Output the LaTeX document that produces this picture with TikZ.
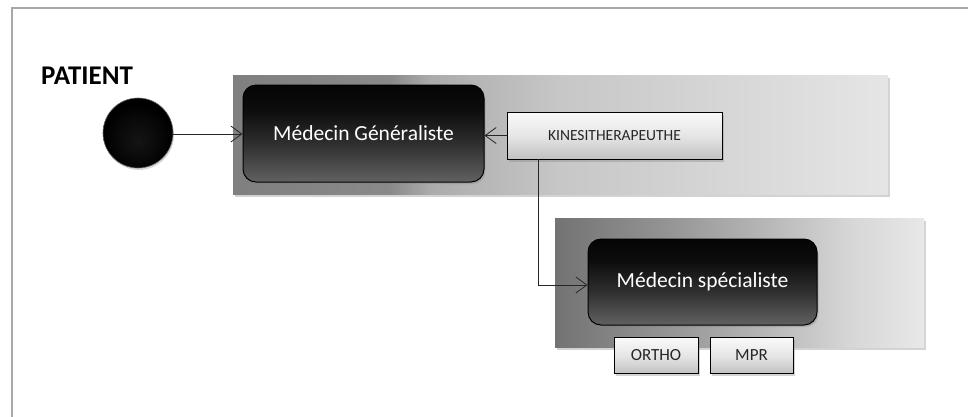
\documentclass[tikz,border=0pt]{standalone}
\usepackage{fontspec}
\setmainfont{Carlito}
\usetikzlibrary{shadows,arrows.meta}
\definecolor{framegray}{HTML}{A8A8A8}
\definecolor{textdark}{HTML}{262626}
\pgfdeclarehorizontalshading{bandA}{100bp}{%
  color(0bp)=(black!50); color(25bp)=(black!50); color(37bp)=(black!46);
  color(40bp)=(black!33); color(50bp)=(black!22); color(75bp)=(black!10); color(100bp)=(black!10)}
\pgfdeclarehorizontalshading{bandB}{100bp}{%
  color(0bp)=(black!55); color(25bp)=(black!55); color(40bp)=(black!42);
  color(52bp)=(black!30); color(65bp)=(black!16); color(75bp)=(black!9); color(100bp)=(black!9)}
\pgfdeclareverticalshading{darkbox}{100bp}{%
  color(0bp)=(black!62); color(25bp)=(black!62); color(45bp)=(black!82);
  color(62bp)=(black!95); color(75bp)=(black!98); color(100bp)=(black!98)}
\pgfdeclareverticalshading{lightbox}{100bp}{%
  color(0bp)=(black!24); color(25bp)=(black!24); color(50bp)=(black!10);
  color(75bp)=(black!2); color(100bp)=(black!2)}
\pgfdeclareradialshading{dotshade}{\pgfpoint{0bp}{-6bp}}{%
  color(0bp)=(black!92); color(16bp)=(black!97); color(24bp)=(black!100); color(25bp)=(black!100); color(50bp)=(black!100)}
\tikzset{
  band/.style={draw=none, drop shadow={shadow xshift=1.5pt, shadow yshift=-2.5pt, opacity=0.35}},
  actbox/.style={rounded corners=13pt, draw=black, line width=1pt, shading=darkbox,
    text=white, font=\fontsize{21.5}{24}\selectfont,
    drop shadow={shadow xshift=1.5pt, shadow yshift=-2pt, opacity=0.35}},
  smallbox/.style={draw=black, line width=1pt, shading=lightbox, text=textdark,
    font=\fontsize{15.5}{17}\selectfont, inner sep=0pt,
    drop shadow={shadow xshift=1.5pt, shadow yshift=-2.5pt, opacity=0.35}},
  conn/.style={draw=black!85, line width=0.8pt, -{Straight Barb[length=11pt,width=16pt]}},
}
\begin{document}
\begin{tikzpicture}[x=1pt,y=-1pt]
\useasboundingbox (0,0) rectangle (968,416);
% frame
\draw[framegray, line width=1.6pt] (12,417) -- (12,8) -- (969,8);
% bands
\path[band, shading=bandA] (233,75) rectangle (888,194);
\path[band, shading=bandB] (555,218) rectangle (924,347);
% title
\node[anchor=west, font=\bfseries\fontsize{27}{30}\selectfont, inner sep=0pt] (title) at (41,76) {PATIENT};
% start circle
\node[circle, minimum size=70pt, inner sep=0pt, shading=dotshade, draw=black!60, line width=0.6pt,
  drop shadow={shadow xshift=1pt, shadow yshift=-2pt, opacity=0.3}] (patient) at (138,133) {};
% boxes
\node[actbox, minimum width=241pt, minimum height=97pt] (mg) at (363.5,133.5) {Médecin Généraliste};
\node[smallbox, minimum width=215pt, minimum height=47pt] (kine) at (614.5,135.5) {KINESITHERAPEUTHE};
\node[actbox, minimum width=229pt, minimum height=86pt] (ms) at (702.5,282) {Médecin spécialiste};
\node[smallbox, minimum width=84pt, minimum height=36pt, font=\fontsize{17}{19}\selectfont] (ortho) at (656,355.5) {ORTHO};
\node[smallbox, minimum width=83pt, minimum height=36pt, font=\fontsize{17}{19}\selectfont] (mpr) at (751.5,355.5) {MPR};
% connectors
\draw[conn] (patient.east |- 0,134) -- (mg.west |- 0,134);
\draw[conn] (kine.west) -- (mg.east |- kine.west);
\coordinate (kdown) at (538,159);
\coordinate (kcorner) at (538,285);
\draw[conn] (kdown) -- (kcorner) -- (ms.west |- kcorner);
\end{tikzpicture}
\end{document}
